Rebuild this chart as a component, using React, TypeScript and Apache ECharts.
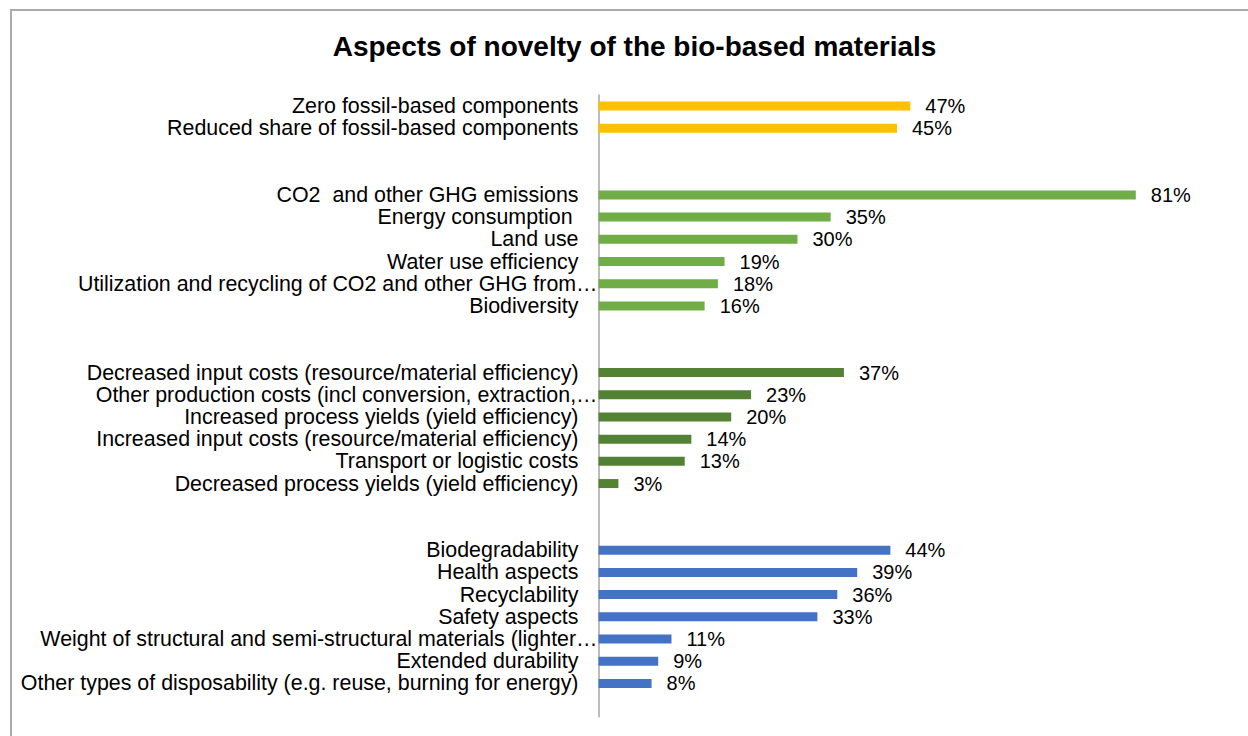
import React, { useEffect, useRef } from "react";
import * as echarts from "echarts";

// Survey results: share of respondents citing each aspect of novelty
const fossilLabels = ["Zero fossil-based components", "Reduced share of fossil-based components"];
const fossilValues = [47, 45];

const environmentLabels = [
  "CO2  and other GHG emissions",
  "Energy consumption ",
  "Land use",
  "Water use efficiency",
  "Utilization and recycling of CO2 and other GHG from…",
  "Biodiversity",
];
const environmentValues = [81, 35, 30, 19, 18, 16];

const costLabels = [
  "Decreased input costs (resource/material efficiency)",
  "Other production costs (incl conversion, extraction,…",
  "Increased process yields (yield efficiency)",
  "Increased input costs (resource/material efficiency)",
  "Transport or logistic costs",
  "Decreased process yields (yield efficiency)",
];
const costValues = [37, 23, 20, 14, 13, 3];

const productLabels = [
  "Biodegradability",
  "Health aspects",
  "Recyclability",
  "Safety aspects",
  "Weight of structural and semi-structural materials (lighter…",
  "Extended durability",
  "Other types of disposability (e.g. reuse, burning for energy)",
];
const productValues = [44, 39, 36, 33, 11, 9, 8];

const groupColors = ["#FFC000", "#70AD47", "#548235", "#4472C4"];

const TITLE = "Aspects of novelty of the bio-based materials";
const FONT = "'Liberation Sans', Arial, Helvetica, sans-serif";
const LABEL_SIZE = 21.4;

type Row = { name: string; value: number | null; color?: string };

// Groups are separated by two empty rows, with one more empty row at the end
function buildRows(): Row[] {
  const groups: [string[], number[]][] = [
    [fossilLabels, fossilValues],
    [environmentLabels, environmentValues],
    [costLabels, costValues],
    [productLabels, productValues],
  ];
  const rows: Row[] = [];
  let blank = 0;
  groups.forEach(([labels, values], gi) => {
    if (gi > 0) {
      rows.push({ name: " ".repeat(++blank), value: null });
      rows.push({ name: " ".repeat(++blank), value: null });
    }
    labels.forEach((l, i) => rows.push({ name: l, value: values[i], color: groupColors[gi] }));
  });
  rows.push({ name: " ".repeat(++blank), value: null });
  return rows;
}

export default function App() {
  const ref = useRef<HTMLDivElement>(null);

  useEffect(() => {
    if (!ref.current) return;
    const chart = echarts.init(ref.current, null, { renderer: "svg" });
    const rows = buildRows();
    const categories = rows.map((r) => r.name);

    chart.setOption({
      animation: false,
      backgroundColor: "#ffffff",
      textStyle: { fontFamily: FONT },
      graphic: [
        {
          type: "rect",
          shape: { x: 11, y: 10, width: 1400, height: 900 },
          style: { fill: "none", stroke: "#ababab", lineWidth: 2 },
          z: -1,
        },
        {
          type: "text",
          x: 634.5,
          y: 46,
          style: {
            text: TITLE,
            fill: "#000000",
            font: `bold 28px ${FONT}`,
            textAlign: "center",
            textVerticalAlign: "middle",
          },
        },
      ],
      grid: { left: 598.5, top: 95, bottom: 19.3, width: 597, containLabel: false },
      xAxis: {
        type: "value",
        min: 0,
        max: 90,
        show: false,
        splitLine: { show: false },
      },
      yAxis: {
        type: "category",
        inverse: true,
        data: categories,
        axisTick: { show: false },
        axisLine: { show: true, lineStyle: { color: "#a6a6a6", width: 1.5 } },
        axisLabel: {
          interval: 0,
          margin: 1,
          color: "#000000",
          fontSize: LABEL_SIZE,
          fontFamily: FONT,
          formatter: (v: string) =>
            v.endsWith("…") ? `{e|${v}}` : v.trim() === "" ? "" : `{n|${v}}`,
          rich: {
            n: { fontSize: LABEL_SIZE, color: "#000000", fontFamily: FONT, padding: [0, 19, 0, 0] },
            e: { fontSize: LABEL_SIZE, color: "#000000", fontFamily: FONT },
          },
        },
      },
      series: [
        {
          type: "bar",
          barWidth: 9,
          data: rows.map((r) =>
            r.value === null
              ? { value: "-" }
              : { value: r.value, itemStyle: { color: r.color } }
          ),
          label: {
            show: true,
            position: "right",
            distance: 15,
            color: "#000000",
            fontSize: 20,
            fontFamily: FONT,
            formatter: (p: any) => (typeof p.value === "number" ? `${p.value}%` : ""),
          },
        },
      ],
    });

    return () => chart.dispose();
  }, []);

  return (
    <div
      ref={ref}
      style={{ position: "fixed", left: 0, top: 0, width: 1248, height: 736 }}
    />
  );
}
